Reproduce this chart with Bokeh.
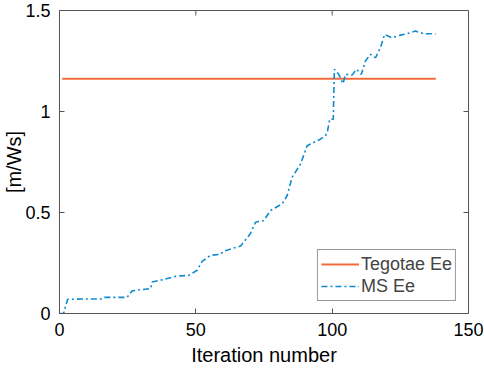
import math
from bokeh.plotting import figure
from bokeh.models import FixedTicker, Range1d, Legend, LegendItem
from bokeh.embed import file_html
from bokeh.resources import INLINE

# Data
iters = [0, 1.5, 2.3, 3.0, 8, 15.6, 16.5, 24.8, 26.6, 30, 33.4, 34.0, 38, 42.5, 47.4,
         50.5, 52.3, 55.4, 59.0, 60.3, 66.4, 70.0, 71.9, 74.9, 77.4, 81.7, 83.5,
         85.3, 88.4, 90.8, 94.5, 95.7, 97.5, 98.2, 99.1, 100.4, 100.8, 102.4, 104.0,
         104.9, 107.3, 108.9, 110.7, 112.2, 114.0, 115.9, 117.7, 119.2, 122.0,
         125.0, 127.5, 130.5, 133.6, 137.9]
ms_ee = [0, 0, 0.04, 0.07, 0.072, 0.072, 0.08, 0.08, 0.112, 0.118, 0.123, 0.156, 0.168,
         0.184, 0.189, 0.214, 0.258, 0.288, 0.293, 0.309, 0.334, 0.395, 0.452, 0.46,
         0.51, 0.543, 0.584, 0.674, 0.74, 0.83, 0.855, 0.863, 0.88, 0.896, 0.962,
         0.962, 1.209, 1.184, 1.138, 1.184, 1.18, 1.209, 1.184, 1.25, 1.283, 1.266,
         1.316, 1.381, 1.365, 1.378, 1.385, 1.398, 1.385, 1.385]
tegotae_x = [1, 138]
tegotae_ee = [1.162, 1.162]

x_ticks = [0, 50, 100, 150]
y_ticks = [0, 0.5, 1, 1.5]
y_tick_labels = {0: "0", 0.5: "0.5", 1: "1", 1.5: "1.5"}
X_MIN, X_MAX = 0, 150
Y_MIN, Y_MAX = 0, 1.5

FONT = "Liberation Sans"
AX = "#555555"

p = figure(width=484, height=368, output_backend="svg", toolbar_location=None,
           x_range=Range1d(X_MIN, X_MAX), y_range=Range1d(Y_MIN, Y_MAX),
           min_border_left=0, min_border_right=16, min_border_top=10, min_border_bottom=0)
p.grid.visible = False
p.outline_line_color = AX
p.outline_line_width = 1
p.background_fill_color = "white"
p.border_fill_color = "white"

for ax in p.xaxis + p.yaxis:
    ax.major_tick_in = 5
    ax.major_tick_out = 0
    ax.minor_tick_in = 0
    ax.minor_tick_out = 0
    ax.axis_line_color = AX
    ax.major_tick_line_color = AX
    ax.major_label_text_font = FONT
    ax.major_label_text_font_size = "18px"
    ax.major_label_text_color = "black"
    ax.axis_label_text_font = FONT
    ax.axis_label_text_font_size = "20px"
    ax.axis_label_text_font_style = "normal"
    ax.axis_label_text_color = "black"

p.xaxis.ticker = FixedTicker(ticks=x_ticks)
p.yaxis.ticker = FixedTicker(ticks=y_ticks)
p.yaxis.major_label_overrides = y_tick_labels
p.xaxis.axis_label = "Iteration number"
p.yaxis.axis_label = "[m/Ws]"
p.xaxis.major_label_standoff = 9
p.xaxis.axis_label_standoff = 5
p.yaxis.major_label_standoff = 9
p.yaxis.axis_label_standoff = -3

# box ticks on top and right (inward, 5 screen px)
p.ray(x=x_ticks, y=[Y_MAX] * len(x_ticks), length=5, length_units="screen",
      angle=-math.pi / 2, line_color=AX, line_width=1)
p.ray(x=[X_MAX] * len(y_ticks), y=y_ticks, length=5, length_units="screen",
      angle=math.pi, line_color=AX, line_width=1)

r1 = p.line(tegotae_x, tegotae_ee, line_color="#F26B3A", line_width=2)
r2 = p.line(iters, ms_ee, line_color="#0E8AD0", line_width=1.6, line_dash="6 3 2 3")

legend = Legend(items=[LegendItem(label="Tegotae Ee", renderers=[r1]),
                       LegendItem(label="MS Ee", renderers=[r2])],
                location="bottom_right")
legend.label_text_font = FONT
legend.label_text_font_size = "18px"
legend.border_line_color = "#333333"
legend.border_line_width = 1
legend.glyph_width = 38
legend.glyph_height = 22
legend.label_height = 22
legend.spacing = 0
legend.padding = 3
legend.margin = 12
legend.label_standoff = 2
p.add_layout(legend)

open("out.html", "w").write(file_html(p, INLINE))
